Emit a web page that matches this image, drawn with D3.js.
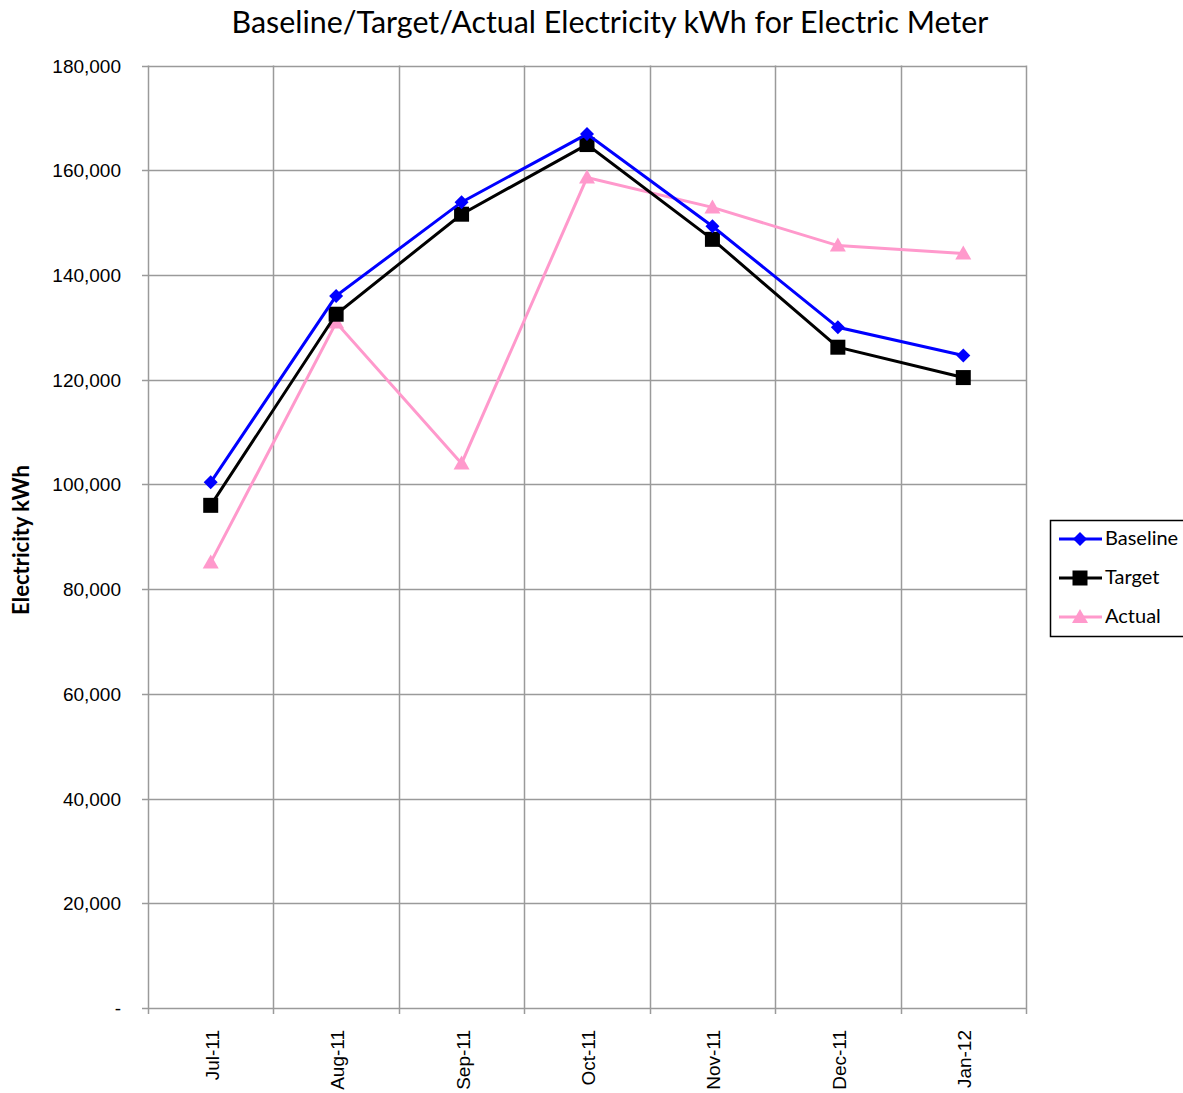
<!DOCTYPE html>
<html>
<head>
<meta charset="utf-8">
<script src="https://cdn.jsdelivr.net/npm/d3@7"></script>
<style>
  body { margin: 0; background: #fff; }
  svg { display: block; }
</style>
</head>
<body>
<div id="chart"></div>
<script>
var w = 1183;
var h = 1093;

// data
var months = ["Jul-11", "Aug-11", "Sep-11", "Oct-11", "Nov-11", "Dec-11", "Jan-12"];
var baseline = [100400, 136000, 153900, 166900, 149300, 130000, 124600];
var target = [96000, 132500, 151600, 164900, 146800, 126200, 120400];
var actual = [85100, 130900, 104000, 158600, 152900, 145600, 144100];
var yTicks = [0, 20000, 40000, 60000, 80000, 100000, 120000, 140000, 160000, 180000];

var series = [
  {name: "Baseline", values: baseline, color: "#0000ff", marker: "diamond"},
  {name: "Target", values: target, color: "#000000", marker: "square"},
  {name: "Actual", values: actual, color: "#ff99cc", marker: "triangle"}
];

var plotL = 148, plotR = 1026, plotT = 65.5, plotB = 1008;

var svg = d3.select("#chart")
  .append("svg")
  .attr("width", w)
  .attr("height", h);

var x = d3.scaleBand()
  .domain(months)
  .range([plotL, plotR]);

var y = d3.scaleLinear()
  .domain([0, 180000])
  .range([plotB, plotT]);

var fmt = d3.format(",");
var grid = "#9a9a9a";

// horizontal grid lines + y ticks
svg.selectAll(".hgrid")
  .data(yTicks)
  .enter().append("line")
  .attr("x1", plotL - 6)
  .attr("x2", plotR)
  .attr("y1", function(d) { return Math.round(y(d)) + 0.5; })
  .attr("y2", function(d) { return Math.round(y(d)) + 0.5; })
  .attr("stroke", grid)
  .attr("stroke-width", 1.5);

// vertical grid lines at category boundaries
var bounds = months.map(function(m) { return x(m); }).concat([plotR]);
svg.selectAll(".vgrid")
  .data(bounds)
  .enter().append("line")
  .attr("x1", function(d) { return Math.round(d) + 0.5; })
  .attr("x2", function(d) { return Math.round(d) + 0.5; })
  .attr("y1", plotT)
  .attr("y2", plotB + 6)
  .attr("stroke", grid)
  .attr("stroke-width", 1.5);

// y labels
svg.selectAll(".ylab")
  .data(yTicks)
  .enter().append("text")
  .attr("x", 121)
  .attr("y", function(d) { return y(d) + 7; })
  .attr("text-anchor", "end")
  .style("font-family", "Liberation Sans, Arial, sans-serif")
  .style("font-size", "19px")
  .attr("fill", "#000")
  .text(function(d) { return d === 0 ? "-" : fmt(d); });

// x labels, rotated
svg.selectAll(".xlab")
  .data(months)
  .enter().append("text")
  .attr("transform", function(d) {
    return "translate(" + (x(d) + x.bandwidth() / 2 + 8) + "," + (plotB + 22) + ") rotate(-90)";
  })
  .attr("text-anchor", "end")
  .style("font-family", "Liberation Sans, Arial, sans-serif")
  .style("font-size", "19px")
  .attr("fill", "#000")
  .text(function(d) { return d; });

// title
svg.append("text")
  .attr("x", 610)
  .attr("y", 33)
  .attr("text-anchor", "middle")
  .style("font-family", "Lato, sans-serif")
  .style("font-size", "30.4px")
  .attr("fill", "#000")
  .text("Baseline/Target/Actual Electricity kWh for Electric Meter");

// y axis title
svg.append("text")
  .attr("transform", "translate(29,540) rotate(-90)")
  .attr("text-anchor", "middle")
  .style("font-family", "Lato, sans-serif")
  .style("font-weight", "bold")
  .style("font-size", "22px")
  .attr("fill", "#000")
  .text("Electricity kWh");

var cx = function(d, i) { return x(months[i]) + x.bandwidth() / 2; };

var line = d3.line()
  .x(function(d, i) { return cx(d, i); })
  .y(function(d) { return y(d); });

function markerPath(type) {
  if (type === "diamond") return "M0,-7L7,0L0,7L-7,0Z";
  if (type === "square") return "M-7.5,-7.5L7.5,-7.5L7.5,7.5L-7.5,7.5Z";
  return "M0,-8L8,6L-8,6Z";
}

// draw in reverse so baseline ends on top
series.slice().reverse().forEach(function(s) {
  svg.append("path")
    .datum(s.values)
    .attr("d", line)
    .attr("fill", "none")
    .attr("stroke", s.color)
    .attr("stroke-width", 3);

  svg.selectAll(".m-" + s.name)
    .data(s.values)
    .enter().append("path")
    .attr("transform", function(d, i) { return "translate(" + cx(d, i) + "," + y(d) + ")"; })
    .attr("d", markerPath(s.marker))
    .attr("fill", s.color);
});

// legend
var lg = svg.append("g");
lg.append("rect")
  .attr("x", 1050.5)
  .attr("y", 520.5)
  .attr("width", 140)
  .attr("height", 116)
  .attr("fill", "#fff")
  .attr("stroke", "#000")
  .attr("stroke-width", 1.5);

series.forEach(function(s, i) {
  var ly = 539 + i * 39;
  lg.append("line")
    .attr("x1", 1059).attr("x2", 1102)
    .attr("y1", ly).attr("y2", ly)
    .attr("stroke", s.color)
    .attr("stroke-width", 3);
  lg.append("path")
    .attr("transform", "translate(1080," + ly + ")")
    .attr("d", markerPath(s.marker))
    .attr("fill", s.color);
  lg.append("text")
    .attr("x", 1105)
    .attr("y", ly + 6)
    .style("font-family", "Lato, sans-serif")
    .style("font-size", "20px")
    .attr("fill", "#000")
    .text(s.name);
});
</script>
</body>
</html>
